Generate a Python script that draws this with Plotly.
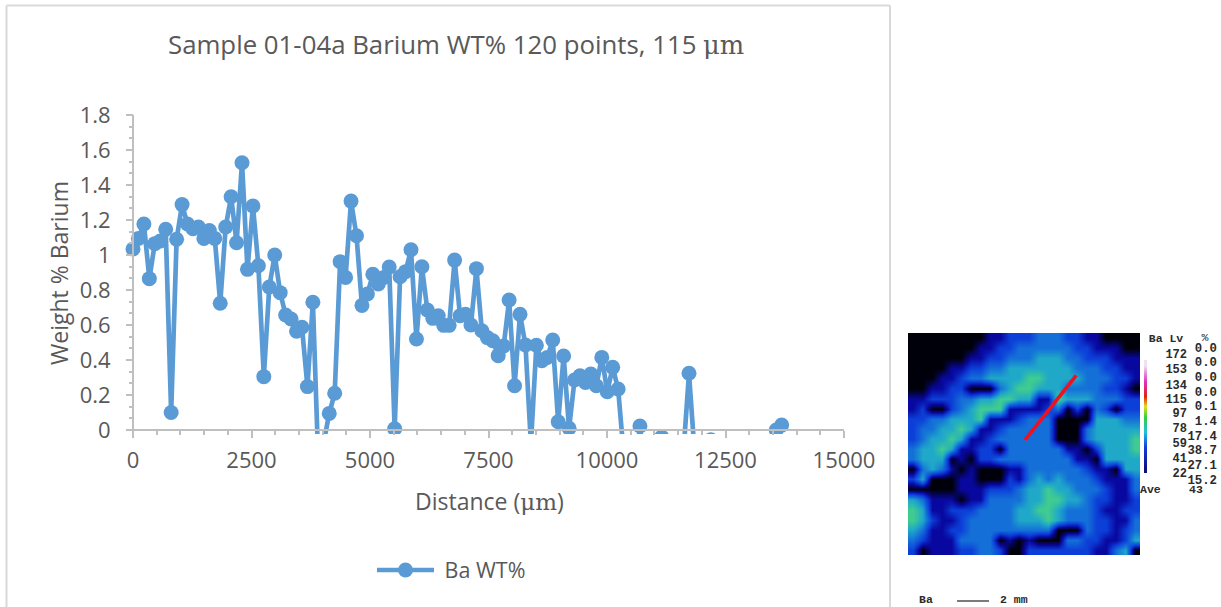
import plotly.graph_objects as go

W, H = 1221, 607
distance_step = 115
ba_wt = [1.034,1.095,1.177,0.865,1.065,1.08,1.147,0.10,1.09,1.288,1.177,1.15,1.16,1.095,1.14,1.095,0.724,1.16,1.333,1.07,
         1.527,0.918,1.28,0.939,0.305,0.817,1.0,0.785,0.657,0.634,0.564,0.587,0.248,0.73,-0.19,-0.07,0.095,0.21,0.962,0.872,
         1.308,1.11,0.712,0.777,0.89,0.834,0.872,0.931,0.007,0.876,0.905,1.03,0.52,0.933,0.686,0.638,0.653,0.598,0.598,0.971,
         0.653,0.661,0.6,0.922,0.567,0.528,0.51,0.425,0.48,0.743,0.253,0.661,0.486,-0.08,0.484,0.396,0.415,0.514,0.047,0.423,
         0.01,0.286,0.31,0.272,0.32,0.253,0.415,0.219,0.358,0.234,-0.13,-0.3,-0.3,0.023,-0.3,-0.3,-0.3,-0.04,-0.3,-0.3,
         -0.3,-0.12,0.324,-0.12,-0.3,-0.3,-0.055,-0.3,-0.3,-0.3,-0.3,-0.3,-0.3,-0.3,-0.3,-0.3,-0.3,-0.3,0.0,0.028]
distance = [i * distance_step for i in range(len(ba_wt))]
y_ticks = [0, 0.2, 0.4, 0.6, 0.8, 1, 1.2, 1.4, 1.6, 1.8]
y_labels = ["0", "0.2", "0.4", "0.6", "0.8", "1", "1.2", "1.4", "1.6", "1.8"]

map_rows = [
    "000000001122233322110000",
    "000000011223333332211100",
    "000000112233344433222111",
    "000011223344444443332211",
    "000112334444554444333221",
    "001122000345544433332210",
    "112223344554411544433322",
    "120023455511112302032022",
    "223344451112333000044433",
    "233445411233333000344444",
    "234454112333333000344445",
    "344541122033333311024445",
    "344401022333333331104444",
    "034310100011333333211044",
    "240001100021343433321113",
    "000001112223445443332113",
    "431110113333445544322112",
    "541122233334455433321122",
    "542112333334445433322113",
    "431122333333333000322123",
    "321113333010100033221124",
    "201112233200222222211340",
]
map_z = [[int(c) for c in row] for row in map_rows]
map_scale = [[0, "#00000a"], [0.2, "#0808a0"], [0.4, "#0c3fd8"], [0.6, "#1470d8"], [0.8, "#1fa8c8"], [1, "#40cc90"]]
line_col = [11.6, 16.9]
line_row = [10.1, 3.7]

rainbow = [0, 1, 2, 3, 4, 5, 6, 7, 8, 9]
rainbow_scale = [[0, "#101080"], [0.2, "#1040e0"], [0.35, "#20c0e0"], [0.5, "#30d040"], [0.6, "#e0e020"],
                 [0.7, "#e02010"], [0.85, "#e030c0"], [1, "#f0e0f0"]]
lv_labels = ["172", "153", "134", "115", "97", "78", "59", "41", "22"]
lv_rows = [355.3, 370.3, 385.7, 400, 414.3, 429, 444, 459, 473.7]
pct_labels = ["0.0", "0.0", "0.0", "0.0", "0.1", "1.4", "17.4", "38.7", "27.1", "15.2"]
pct_rows = [348.7, 363, 377.7, 392.7, 407, 421.7, 436.7, 451.3, 466, 481.3]

def px(x):
    return x / W
def py(y):
    return 1 - y / H

MONO = "Liberation Mono"
DARK = "#2b2b2b"

fig = go.Figure()
fig.add_trace(go.Scatter(
    x=distance, y=ba_wt, mode="lines+markers", name="\u00a0Ba WT%",
    line=dict(color="#5B9BD5", width=4.7),
    marker=dict(color="#5B9BD5", size=15),
))
fig.add_trace(go.Heatmap(z=map_z, xaxis="x2", yaxis="y2", colorscale=map_scale, showscale=False,
                         zsmooth="best", showlegend=False, hoverinfo="skip"))
fig.add_trace(go.Scatter(x=line_col, y=line_row, xaxis="x2", yaxis="y2", mode="lines",
                         line=dict(color="#f01020", width=3.5), showlegend=False, hoverinfo="skip"))
fig.add_trace(go.Heatmap(z=[[v] for v in rainbow], xaxis="x3", yaxis="y3", colorscale=rainbow_scale,
                         showscale=False, zsmooth="best", showlegend=False, hoverinfo="skip"))

def label_trace(xs, ys, texts, pos, size):
    fig.add_trace(go.Scatter(x=xs, y=ys, text=texts, mode="text", textposition=pos, xaxis="x4", yaxis="y4",
                             textfont=dict(family=MONO, size=size, color=DARK), showlegend=False,
                             hoverinfo="skip", cliponaxis=False))

label_trace([1187] * len(lv_labels), lv_rows, [f"<b>{s}</b>" for s in lv_labels], "middle left", 12)
label_trace([1217] * len(pct_labels), pct_rows, [f"<b>{s}</b>" for s in pct_labels], "middle left", 12.3)
label_trace([1166, 1205, 1196], [339, 338, 490], ["<b>Ba Lv</b>", "%", "<b>43</b>"], "middle center", 11.5)
label_trace([1140, 919, 1000], [490, 600, 600], ["<b>Ave</b>", "<b>Ba</b>", "<b>2 mm</b>"], "middle right", 11.5)

X0, X1, Y0, Y1 = 133, 844, 430, 115
per_x = (X1 - X0) / 15000
per_y = (Y0 - Y1) / 1.8
clipL, clipB = 122, 434
ax_col = "#BFBFBF"
txt = "#595959"
FONT = "Open Sans"
SERIF = "DejaVu Serif"
layout = dict(
    width=W, height=H, autosize=False, margin=dict(l=0, r=0, t=0, b=0, pad=0, autoexpand=False),
    paper_bgcolor="white", plot_bgcolor="rgba(0,0,0,0)",
    font=dict(family=FONT, color=txt),
    xaxis=dict(domain=[px(clipL), px(X1 + 8)], range=[-(X0 - clipL) / per_x, 15000 + 8 / per_x],
               anchor="free", position=py(Y0), showgrid=False, zeroline=False, showline=False,
               tick0=0, dtick=2500, tickformat="d", ticks="outside", ticklen=7, tickwidth=2, tickcolor=ax_col,
               tickfont=dict(size=22, color=txt), ticklabelstandoff=4,
               minor=dict(tick0=0, dtick=500, ticks="outside", ticklen=4, tickwidth=2, tickcolor=ax_col, showgrid=False)),
    yaxis=dict(domain=[py(clipB), py(Y1 - 8)], range=[-(clipB - Y0) / per_y, 1.8 + 8 / per_y],
               anchor="free", position=px(X0), showgrid=False, zeroline=False, showline=False,
               tickmode="array", tickvals=y_ticks, ticktext=y_labels, ticklabelstandoff=11,
               ticks="outside", ticklen=7, tickwidth=2, tickcolor=ax_col, tickfont=dict(size=22, color=txt),
               minor=dict(tickmode="linear", tick0=0, dtick=0.2 / 3, ticks="outside", ticklen=4, tickwidth=2,
                          tickcolor=ax_col, showgrid=False)),
    xaxis2=dict(domain=[px(908), px(1140)], range=[-0.5, 23.5], visible=False, anchor="y2"),
    yaxis2=dict(domain=[py(555), py(333)], range=[21.5, -0.5], visible=False, anchor="x2"),
    xaxis3=dict(domain=[px(1144), px(1147)], range=[-0.5, 0.5], visible=False, anchor="y3"),
    yaxis3=dict(domain=[py(473), py(360)], range=[-0.5, 9.5], visible=False, anchor="x3"),
    xaxis4=dict(domain=[0, 1], range=[0, W], visible=False, anchor="y4"),
    yaxis4=dict(domain=[0, 1], range=[H, 0], visible=False, anchor="x4"),
    legend=dict(x=px(372), y=py(570), xanchor="left", yanchor="middle", orientation="h",
                font=dict(size=21.5, color=txt), bgcolor="rgba(0,0,0,0)", itemwidth=57),
    showlegend=True,
)
FRAME = "#D9D9D9"
shapes = [
    dict(type="line", xref="paper", yref="paper", x0=px(X0), x1=px(X1), y0=py(Y0), y1=py(Y0), line=dict(color=ax_col, width=2)),
    dict(type="line", xref="paper", yref="paper", x0=px(X0), x1=px(X0), y0=py(Y0), y1=py(Y1), line=dict(color=ax_col, width=2)),
    dict(type="line", xref="paper", yref="paper", x0=px(6.5), x1=px(6.5), y0=py(607), y1=py(5.5), line=dict(color=FRAME, width=2)),
    dict(type="line", xref="paper", yref="paper", x0=px(6.5), x1=px(890), y0=py(5.5), y1=py(5.5), line=dict(color=FRAME, width=2)),
    dict(type="line", xref="paper", yref="paper", x0=px(890), x1=px(890), y0=py(5.5), y1=py(607), line=dict(color=FRAME, width=2)),
    dict(type="line", xref="paper", yref="paper", x0=px(957), x1=px(989), y0=py(601), y1=py(601), line=dict(color="#222222", width=1.2)),
]
def ann(x, y, text, size=13):
    return dict(x=px(x), y=py(y), xref="paper", yref="paper", text=text, showarrow=False, xanchor="center",
                yanchor="middle", font=dict(size=size, color=txt, family=FONT))
anns = [
    ann(456, 44, f'Sample 01-04a Barium WT% 120 points, 115 <span style="font-family:{SERIF}">μm</span>', 25.8),
    ann(489, 501, f'Distance (<span style="font-family:{SERIF}">μm</span>)', 23),
    dict(x=px(59), y=py(273), xref="paper", yref="paper", text="Weight % Barium", textangle=-90, showarrow=False,
         font=dict(size=23, color=txt, family=FONT), xanchor="center", yanchor="middle"),
]
layout["shapes"] = shapes
layout["annotations"] = anns
fig.update_layout(**layout)
fig.write_html("out.html", config=dict(displayModeBar=False), post_script="document.body.style.margin='0';")
